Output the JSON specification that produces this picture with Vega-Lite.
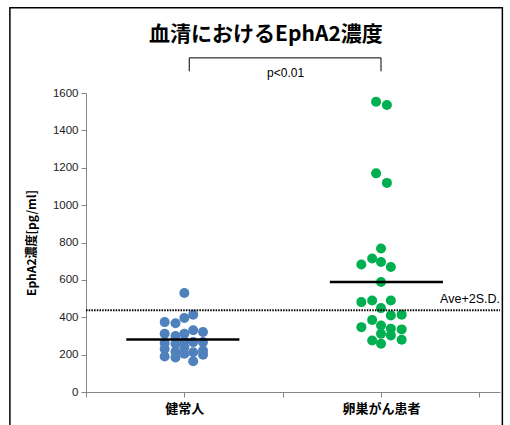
{
  "$schema": "https://vega.github.io/schema/vega-lite/v6.json",
  "width": 414,
  "height": 299,
  "autosize": {"type": "none"},
  "padding": {"left": 86, "top": 93, "right": 10, "bottom": 33},
  "background": "white",
  "config": {"view": {"stroke": null}, "font": "Liberation Sans"},
  "datasets": {
    "pts": [
      {"group": "健常人", "x": 0.80, "value": 374},
      {"group": "健常人", "x": 0.80, "value": 312},
      {"group": "健常人", "x": 0.80, "value": 262},
      {"group": "健常人", "x": 0.80, "value": 230},
      {"group": "健常人", "x": 0.80, "value": 190},
      {"group": "健常人", "x": 0.91, "value": 368},
      {"group": "健常人", "x": 0.91, "value": 300},
      {"group": "健常人", "x": 0.91, "value": 258},
      {"group": "健常人", "x": 0.91, "value": 215},
      {"group": "健常人", "x": 0.91, "value": 185},
      {"group": "健常人", "x": 1.00, "value": 530},
      {"group": "健常人", "x": 1.00, "value": 396},
      {"group": "健常人", "x": 1.00, "value": 312},
      {"group": "健常人", "x": 1.00, "value": 270},
      {"group": "健常人", "x": 1.00, "value": 240},
      {"group": "健常人", "x": 1.00, "value": 205},
      {"group": "健常人", "x": 1.09, "value": 414},
      {"group": "健常人", "x": 1.09, "value": 330},
      {"group": "健常人", "x": 1.09, "value": 267},
      {"group": "健常人", "x": 1.09, "value": 213},
      {"group": "健常人", "x": 1.09, "value": 165},
      {"group": "健常人", "x": 1.19, "value": 321},
      {"group": "健常人", "x": 1.19, "value": 267},
      {"group": "健常人", "x": 1.19, "value": 222},
      {"group": "健常人", "x": 1.19, "value": 200},
      {"group": "卵巣がん患者", "x": 2.80, "value": 682},
      {"group": "卵巣がん患者", "x": 2.80, "value": 481},
      {"group": "卵巣がん患者", "x": 2.80, "value": 347},
      {"group": "卵巣がん患者", "x": 2.91, "value": 714},
      {"group": "卵巣がん患者", "x": 2.91, "value": 490},
      {"group": "卵巣がん患者", "x": 2.91, "value": 385},
      {"group": "卵巣がん患者", "x": 2.91, "value": 276},
      {"group": "卵巣がん患者", "x": 2.95, "value": 1553},
      {"group": "卵巣がん患者", "x": 2.95, "value": 1170},
      {"group": "卵巣がん患者", "x": 3.00, "value": 768},
      {"group": "卵巣がん患者", "x": 3.00, "value": 696},
      {"group": "卵巣がん患者", "x": 3.00, "value": 589},
      {"group": "卵巣がん患者", "x": 3.00, "value": 449},
      {"group": "卵巣がん患者", "x": 3.00, "value": 356},
      {"group": "卵巣がん患者", "x": 3.00, "value": 312},
      {"group": "卵巣がん患者", "x": 3.00, "value": 258},
      {"group": "卵巣がん患者", "x": 3.06, "value": 1536},
      {"group": "卵巣がん患者", "x": 3.06, "value": 1119},
      {"group": "卵巣がん患者", "x": 3.10, "value": 669},
      {"group": "卵巣がん患者", "x": 3.10, "value": 490},
      {"group": "卵巣がん患者", "x": 3.10, "value": 410},
      {"group": "卵巣がん患者", "x": 3.10, "value": 339},
      {"group": "卵巣がん患者", "x": 3.10, "value": 303},
      {"group": "卵巣がん患者", "x": 3.21, "value": 414},
      {"group": "卵巣がん患者", "x": 3.21, "value": 335},
      {"group": "卵巣がん患者", "x": 3.21, "value": 280}
    ],
    "means": [
      {"group": "健常人", "x": 0.41, "x2": 1.56, "value": 281},
      {"group": "卵巣がん患者", "x": 2.48, "x2": 3.63, "value": 589}
    ],
    "cutoff": [
      {"x": 0, "x2": 4.21, "value": 437}
    ],
    "bracket": [
      {"x": 1.05, "x2": 3.0, "value": 1788, "value2": 1788},
      {"x": 1.05, "x2": 1.05, "value": 1788, "value2": 1716},
      {"x": 3.0, "x2": 3.0, "value": 1788, "value2": 1716}
    ],
    "labels": [
      {"x": 2.03, "value": 1707, "label": "p<0.01", "kind": "small"},
      {"x": 4.21, "value": 500, "label": "Ave+2S.D.", "kind": "ave"},
      {"x": 1.83, "value": 1911, "label": "血清におけるEphA2濃度", "kind": "title"}
    ],
    "frame": [
      {"x": -0.774, "x2": 4.234, "value": 2056, "value2": -300}
    ]
  },
  "encoding": {
    "x": {
      "field": "x", "type": "quantitative",
      "scale": {"domain": [0, 4.21], "nice": false, "zero": false},
      "axis": {
        "title": null, "values": [0, 1, 2, 3, 4], "grid": false,
        "domainColor": "#868686", "tickColor": "#868686", "tickSize": 5,
        "labelExpr": "datum.value == 1 ? '健常人' : datum.value == 3 ? '卵巣がん患者' : ''",
        "labelFont": "Noto Sans CJK JP", "labelFontSize": 13, "labelFontWeight": "bold",
        "labelColor": "black", "labelPadding": 5, "labelOverlap": false
      }
    },
    "y": {
      "field": "value", "type": "quantitative",
      "scale": {"domain": [0, 1600], "nice": false},
      "axis": {
        "title": "EphA2濃度[pg/ml]", "values": [0, 200, 400, 600, 800, 1000, 1200, 1400, 1600],
        "format": "d", "labelOverlap": false,
        "grid": false, "domainColor": "#868686", "tickColor": "#868686", "tickSize": 5,
        "labelFont": "Liberation Sans", "labelFontSize": 11.5, "labelColor": "#222222", "labelPadding": 3,
        "titleFont": "Noto Sans CJK JP", "titleFontSize": 12, "titleFontWeight": "bold",
        "titleColor": "black", "titlePadding": 14
      }
    }
  },
  "layer": [
    {
      "data": {"name": "pts"},
      "mark": {"type": "circle", "size": 100, "opacity": 1},
      "encoding": {
        "color": {
          "field": "group", "type": "nominal",
          "scale": {"domain": ["健常人", "卵巣がん患者"], "range": ["#4F81BD", "#00B050"]},
          "legend": null
        }
      }
    },
    {
      "data": {"name": "means"},
      "mark": {"type": "rule", "color": "black", "strokeWidth": 2.5},
      "encoding": {"x2": {"field": "x2"}}
    },
    {
      "data": {"name": "cutoff"},
      "mark": {"type": "rule", "color": "black", "strokeWidth": 2, "strokeDash": [1.5, 1.2]},
      "encoding": {"x2": {"field": "x2"}}
    },
    {
      "data": {"name": "bracket"},
      "mark": {"type": "rule", "color": "black", "strokeWidth": 1},
      "encoding": {"x2": {"field": "x2"}, "y2": {"field": "value2"}}
    },
    {
      "data": {"name": "labels"},
      "transform": [{"filter": "datum.kind == 'small'"}],
      "mark": {"type": "text", "align": "center", "baseline": "middle", "fontSize": 12, "font": "Liberation Sans", "color": "black"},
      "encoding": {"text": {"field": "label"}}
    },
    {
      "data": {"name": "labels"},
      "transform": [{"filter": "datum.kind == 'ave'"}],
      "mark": {"type": "text", "align": "right", "baseline": "middle", "fontSize": 12.5, "font": "Liberation Sans", "color": "black"},
      "encoding": {"text": {"field": "label"}}
    },
    {
      "data": {"name": "labels"},
      "transform": [{"filter": "datum.kind == 'title'"}],
      "mark": {"type": "text", "align": "center", "baseline": "middle", "fontSize": 21, "fontWeight": "bold", "font": "Noto Sans CJK JP", "color": "black"},
      "encoding": {"text": {"field": "label"}}
    },
    {
      "data": {"name": "frame"},
      "mark": {"type": "rect", "fill": null, "stroke": "black", "strokeWidth": 1.5},
      "encoding": {"x2": {"field": "x2"}, "y2": {"field": "value2"}}
    }
  ]
}
